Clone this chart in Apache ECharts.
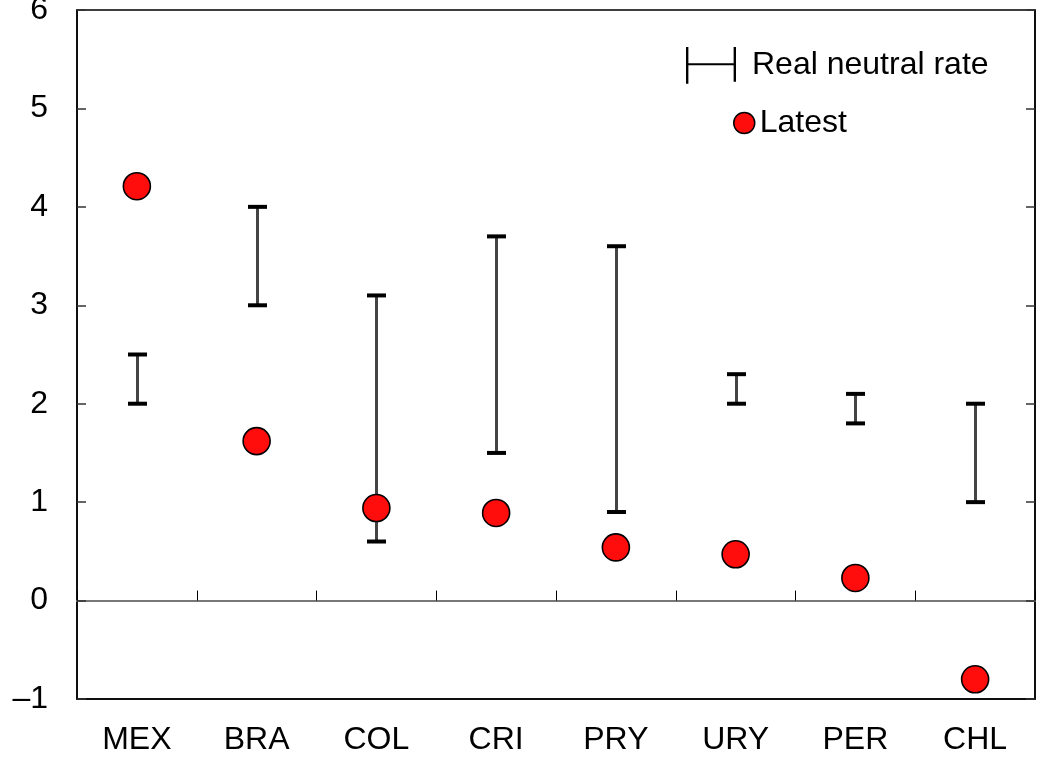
<!DOCTYPE html>
<html>
<head>
<meta charset="utf-8">
<script src="https://cdn.jsdelivr.net/npm/echarts@6/dist/echarts.min.js"></script>
<style>
  html, body { margin: 0; padding: 0; background: #fff; }
  #chart { width: 1038px; height: 760px; }
</style>
</head>
<body>
<div id="chart"></div>
<script>
// Countries on the horizontal axis
const countries = ['MEX', 'BRA', 'COL', 'CRI', 'PRY', 'URY', 'PER', 'CHL'];
// Real neutral rate range: lower and upper bound per country
const neutralLow  = [2.0, 3.0, 0.6, 1.5, 0.9, 2.0, 1.8, 1.0];
const neutralHigh = [2.5, 4.0, 3.1, 3.7, 3.6, 2.3, 2.1, 2.0];
// Latest real policy rate
const latest = [4.21, 1.62, 0.94, 0.89, 0.54, 0.47, 0.23, -0.80];

const FONT = 'Liberation Sans, Arial, sans-serif';
const FS = 32;

const rangeData = countries.map((c, i) => [i, neutralLow[i], neutralHigh[i]]);
const latestData = countries.map((c, i) => [i, latest[i]]);

function renderRange(params, api) {
  const x = Math.round(api.coord([api.value(0), 0])[0]) + 0.5;
  const yLo = api.coord([api.value(0), api.value(1)])[1];
  const yHi = api.coord([api.value(0), api.value(2)])[1];
  const half = 9.5;
  return {
    type: 'group',
    children: [
      { type: 'line', shape: { x1: x, y1: yLo, x2: x, y2: yHi },
        style: { stroke: '#444', lineWidth: 3 } },
      { type: 'line', shape: { x1: x - half, y1: yHi, x2: x + half, y2: yHi },
        style: { stroke: '#000', lineWidth: 4 } },
      { type: 'line', shape: { x1: x - half, y1: yLo, x2: x + half, y2: yLo },
        style: { stroke: '#000', lineWidth: 4 } }
    ]
  };
}

const chart = echarts.init(document.getElementById('chart'), null, { renderer: 'canvas' });

chart.setOption({
  animation: false,
  backgroundColor: '#fff',
  textStyle: { fontFamily: FONT },
  grid: {
    left: 77, right: 3, top: 10, bottom: 61,
    outerBoundsMode: 'none',
    containLabel: false,
    show: true, borderColor: '#000', borderWidth: 1.5, backgroundColor: 'transparent'
  },
  legend: [
    {
      left: 681, top: 42,
      itemWidth: 50, itemHeight: 37,
      textStyle: { fontFamily: FONT, fontSize: FS, color: '#000', padding: [0, 0, 0, 11] },
      data: [{
        name: 'Real neutral rate',
        icon: 'path://M0,0 H2.4 V37 H0 Z M48,0 H50.4 V35 H48 Z M0,16.3 H50 V18.3 H0 Z',
        itemStyle: { color: '#000', borderWidth: 0 }
      }]
    },
    {
      left: 728, top: 102,
      itemWidth: 21, itemHeight: 21,
      textStyle: { fontFamily: FONT, fontSize: FS, color: '#000' },
      data: [{
        name: 'Latest',
        icon: 'circle',
        itemStyle: { color: '#ff0c0c', borderColor: '#000', borderWidth: 1.5 }
      }]
    }
  ],
  xAxis: [
    {
      type: 'category',
      data: countries,
      position: 'bottom',
      boundaryGap: true,
      axisLine: { onZero: false, lineStyle: { color: '#000', width: 1.5 } },
      axisTick: { show: false },
      axisLabel: { fontFamily: FONT, fontSize: FS, color: '#000', margin: 25 },
      splitLine: { show: false }
    },
    {
      type: 'category',
      data: countries,
      position: 'bottom',
      boundaryGap: true,
      axisLine: { onZero: true, lineStyle: { color: '#777', width: 2 } },
      axisTick: { show: true, inside: true, length: 10, lineStyle: { color: '#000', width: 1 } },
      axisLabel: { show: false },
      splitLine: { show: false }
    }
  ],
  yAxis: [
    {
      type: 'value',
      min: -1, max: 6, interval: 1,
      position: 'left',
      axisLine: { show: true, lineStyle: { color: '#000', width: 1.5 } },
      axisTick: { show: true, inside: true, length: 9, lineStyle: { color: '#333', width: 1.5 } },
      axisLabel: {
        fontFamily: FONT, fontSize: FS, color: '#000', margin: 29,
        formatter: v => (v < 0 ? '\u2013' + Math.abs(v) : String(v))
      },
      splitLine: { show: false }
    },
    {
      type: 'value',
      min: -1, max: 6, interval: 1,
      position: 'right',
      axisLine: { show: true, lineStyle: { color: '#000', width: 1.5 } },
      axisTick: { show: true, inside: true, length: 9, lineStyle: { color: '#333', width: 1.5 } },
      axisLabel: { show: false },
      splitLine: { show: false }
    }
  ],
  series: [
    {
      name: 'Real neutral rate',
      type: 'custom',
      xAxisIndex: 0, yAxisIndex: 0,
      renderItem: renderRange,
      data: rangeData,
      z: 2
    },
    {
      name: 'Latest',
      type: 'scatter',
      xAxisIndex: 0, yAxisIndex: 0,
      data: latestData,
      symbol: 'circle',
      symbolSize: 27,
      itemStyle: { color: '#ff0c0c', borderColor: '#000', borderWidth: 1.6, opacity: 1 },
      z: 3
    }
  ]
});
</script>
</body>
</html>
